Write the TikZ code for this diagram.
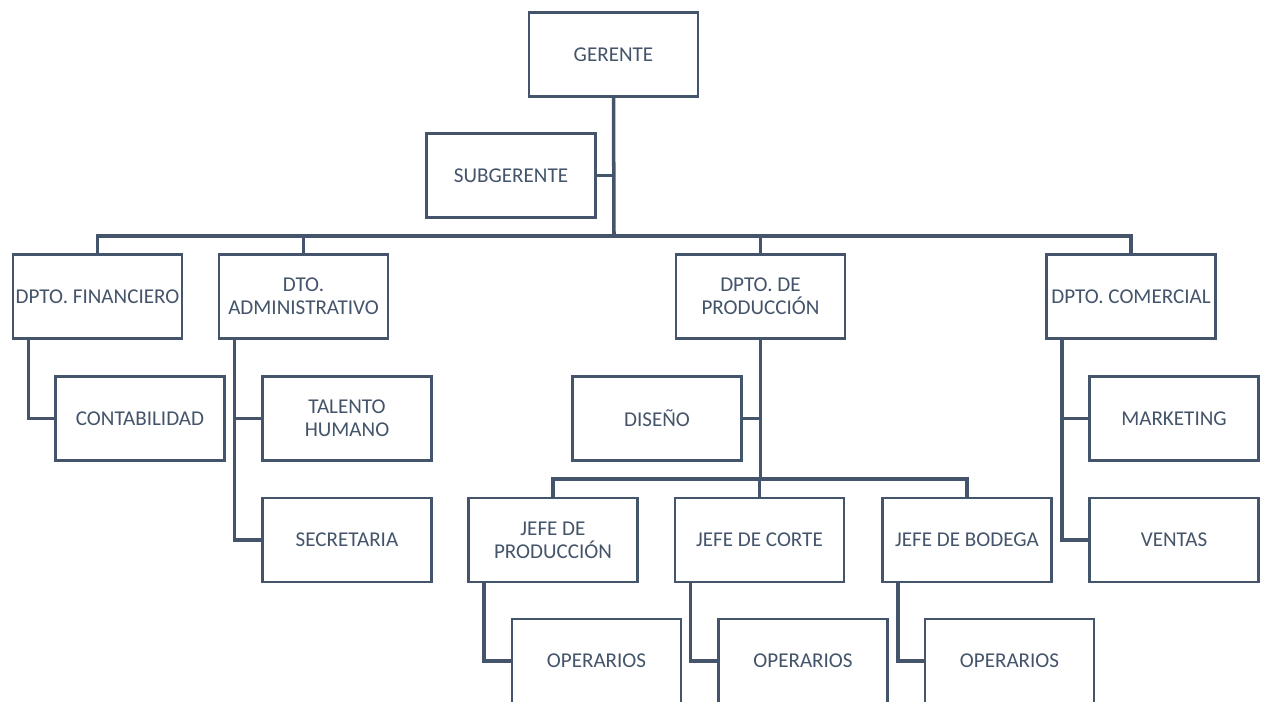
\documentclass[tikz,border=0pt]{standalone}
\usepackage{fontspec}
\setmainfont{Carlito}
\usetikzlibrary{positioning}

\definecolor{slate}{HTML}{44546A}

\begin{document}
\begin{tikzpicture}[
  x=1cm,
  y=1cm,
  font=\fontsize{12}{13}\selectfont,
  unit/.style={draw=slate,line width=1.6pt,fill=white,text=slate,align=center,
    minimum width=3.38cm,minimum height=1.68cm,inner sep=1pt},
  conn/.style={draw=slate,line width=2pt}
]
\useasboundingbox (0,0) rectangle (25.26,-14.04);
\clip (0,0) rectangle (25.26,-14.04);

% top level
\node[unit] (gerente) at (12.27,-1.09) {GERENTE};
\node[unit] (subger) at (10.22,-3.51) {SUBGERENTE};

% departments
\node[unit] (fin) at (1.95,-5.93) {DPTO. FINANCIERO};
\node[unit] (admin) at (6.07,-5.93) {DTO.\\ADMINISTRATIVO};
\node[unit] (prod) at (15.21,-5.93) {DPTO. DE\\PRODUCCIÓN};
\node[unit] (com) at (22.62,-5.93) {DPTO. COMERCIAL};

% sections
\node[unit] (conta) at (2.80,-8.37) {CONTABILIDAD};
\node[unit] (talento) at (6.94,-8.37) {TALENTO\\HUMANO};
\node[unit] (secre) at (6.94,-10.80) {SECRETARIA};
\node[unit] (diseno) at (13.14,-8.37) {DISEÑO};
\node[unit] (mkt) at (23.48,-8.37) {MARKETING};
\node[unit] (ventas) at (23.48,-10.80) {VENTAS};

% production chiefs
\node[unit] (jprod) at (11.06,-10.80) {JEFE DE\\PRODUCCIÓN};
\node[unit] (jcorte) at (15.19,-10.80) {JEFE DE CORTE};
\node[unit] (jbod) at (19.34,-10.80) {JEFE DE BODEGA};
\node[unit] (op1) at (11.93,-13.22) {OPERARIOS};
\node[unit] (op2) at (16.06,-13.22) {OPERARIOS};
\node[unit] (op3) at (20.19,-13.22) {OPERARIOS};

\coordinate (hub) at (12.28,-4.72);
\coordinate (prodhub) at (15.21,-9.58);

% main trunk and bus
\draw[conn] (gerente.south) -- (hub);
\draw[conn] (subger.east) -- (subger.east -| hub);
\draw[conn] (fin.north) |- (hub) -| (com.north);
\draw[conn] (admin.north) -- (admin.north |- hub);
\draw[conn] (prod.north) -- (prod.north |- hub);

% department branches
\draw[conn] ([xshift=0.34cm]fin.south west) |- (conta.west);
\draw[conn] ([xshift=0.34cm]admin.south west) |- (secre.west);
\draw[conn] ([xshift=0.34cm]admin.south west |- talento.west) -- (talento.west);
\draw[conn] ([xshift=0.34cm]com.south west) |- (ventas.west);
\draw[conn] ([xshift=0.34cm]com.south west |- mkt.west) -- (mkt.west);

% production branch
\draw[conn] (prod.south) -- (prodhub);
\draw[conn] (diseno.east) -- (diseno.east -| prodhub);
\draw[conn] (jprod.north) |- (prodhub) -| (jbod.north);
\draw[conn] (jcorte.north) -- (jcorte.north |- prodhub);
\draw[conn] ([xshift=0.34cm]jprod.south west) |- (op1.west);
\draw[conn] ([xshift=0.34cm]jcorte.south west) |- (op2.west);
\draw[conn] ([xshift=0.34cm]jbod.south west) |- (op3.west);
\end{tikzpicture}
\end{document}
